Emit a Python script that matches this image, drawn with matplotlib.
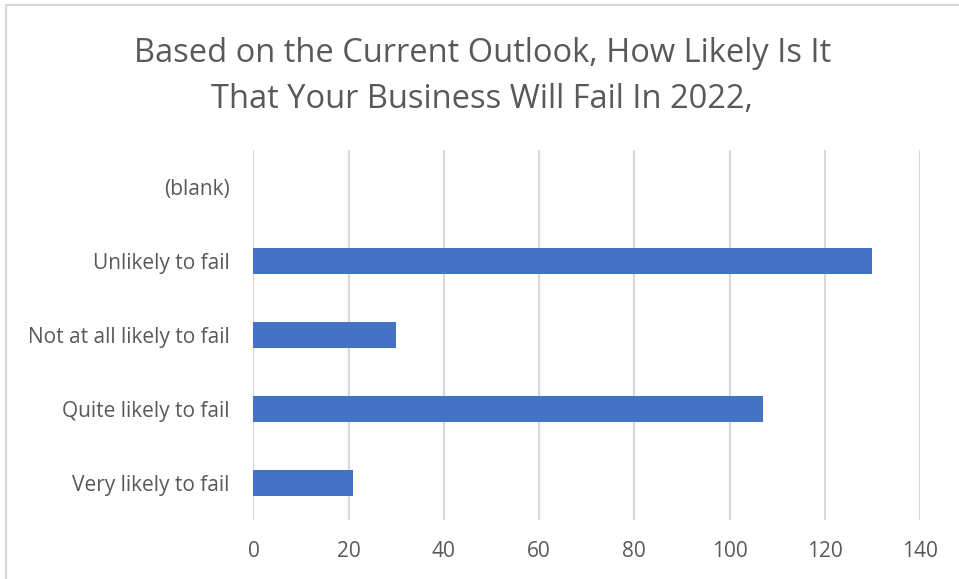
import matplotlib.pyplot as plt
from matplotlib.patches import Rectangle

categories = ['Very likely to fail', 'Quite likely to fail', 'Not at all likely to fail',
              'Unlikely to fail', '(blank)']
counts = [21, 107, 30, 130, 0]
x_ticks = [0, 20, 40, 60, 80, 100, 120, 140]

plt.rcParams['font.family'] = ['Open Sans', 'DejaVu Sans']
text_color = '#595959'
grid_color = '#d9d9d9'

fig = plt.figure(figsize=(9.59, 5.79), dpi=100)
ax = fig.add_axes([0.2643, 0.1019, 0.695, 0.639])

ax.barh(range(len(categories)), counts, height=0.35, color='#4472C4', zorder=3)

ax.set_xlim(0, 140)
ax.set_ylim(-0.5, len(categories) - 0.5)
ax.set_xticks(x_ticks)
ax.set_xticklabels([str(t) for t in x_ticks])
ax.set_yticks(range(len(categories)))
ax.set_yticklabels(categories)
ax.tick_params(axis='both', length=0, labelsize=15, colors=text_color)
ax.tick_params(axis='y', pad=17)
ax.tick_params(axis='x', pad=15)
ax.grid(axis='x', color=grid_color, linewidth=1.5, zorder=0)
for s in ax.spines.values():
    s.set_visible(False)

fig.text(0.503, 0.868, 'Based on the Current Outlook, How Likely Is It\nThat Your Business Will Fail In 2022,',
         ha='center', va='center', fontsize=23.5, color=text_color, linespacing=1.55)

# outer chart border (only top and left visible in the crop)
fig.patches.append(Rectangle((6 / 959, -0.1), 2.0, 1.1 - 5 / 579, transform=fig.transFigure,
                             fill=False, edgecolor=grid_color, linewidth=1.5))

fig.savefig('out.png', dpi=100)
